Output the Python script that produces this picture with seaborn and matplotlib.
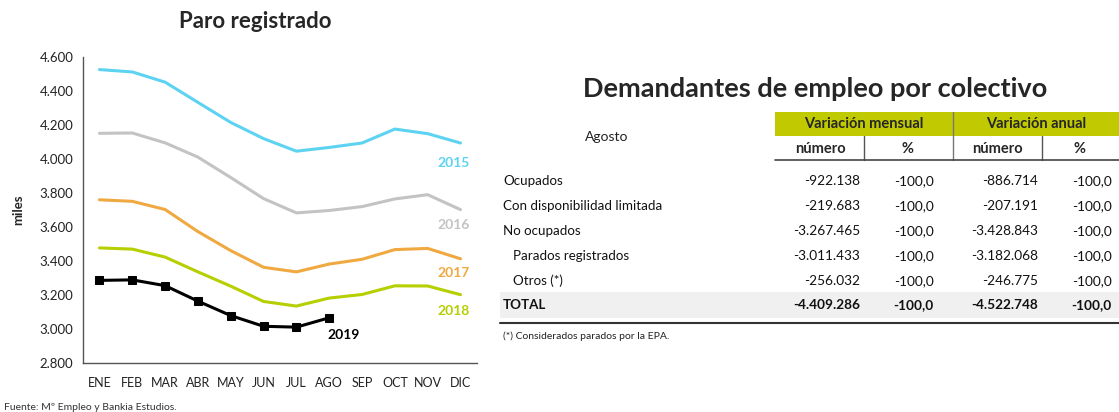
import numpy as np
import pandas as pd
import matplotlib
matplotlib.use("Agg")
import matplotlib.pyplot as plt
from matplotlib.patches import Rectangle
import seaborn as sns

# --- datos del grafico (miles de parados) ---
meses = ['ENE', 'FEB', 'MAR', 'ABR', 'MAY', 'JUN', 'JUL', 'AGO', 'SEP', 'OCT', 'NOV', 'DIC']
paro_2015 = [4526, 4512, 4452, 4333, 4215, 4120, 4046, 4068, 4094, 4176, 4149, 4094]
paro_2016 = [4151, 4153, 4095, 4011, 3891, 3767, 3683, 3697, 3720, 3765, 3790, 3702]
paro_2017 = [3760, 3751, 3703, 3573, 3461, 3363, 3336, 3382, 3410, 3467, 3474, 3413]
paro_2018 = [3477, 3470, 3423, 3336, 3252, 3162, 3135, 3182, 3203, 3254, 3253, 3202]
paro_2019 = [3286, 3289, 3255, 3164, 3079, 3016, 3011, 3066]
y_ticks = [2800, 3000, 3200, 3400, 3600, 3800, 4000, 4200, 4400, 4600]

# --- datos de la tabla ---
filas = ['Ocupados', 'Con disponibilidad limitada', 'No ocupados',
         'Parados registrados', 'Otros (*)', 'TOTAL']
sangria = [False, False, False, True, True, False]
var_mensual_num = ['-922.138', '-219.683', '-3.267.465', '-3.011.433', '-256.032', '-4.409.286']
var_mensual_pct = ['-100,0', '-100,0', '-100,0', '-100,0', '-100,0', '-100,0']
var_anual_num = ['-886.714', '-207.191', '-3.428.843', '-3.182.068', '-246.775', '-4.522.748']
var_anual_pct = ['-100,0', '-100,0', '-100,0', '-100,0', '-100,0', '-100,0']

colores = {'2015': '#5dd3f1', '2016': '#c3c3c3', '2017': '#f0a941',
           '2018': '#b5cf00', '2019': '#000000'}

sns.set_style("white")
plt.rcParams['font.family'] = ['Lato', 'DejaVu Sans']

series = {'2015': paro_2015, '2016': paro_2016, '2017': paro_2017,
          '2018': paro_2018, '2019': paro_2019}
registros = []
for anio, valores in series.items():
    for i, v in enumerate(valores):
        registros.append({'anio': anio, 'mes': i, 'paro': v})
df = pd.DataFrame(registros)

fig = plt.figure(figsize=(11.19, 4.12), dpi=100)

# ---------- grafico de lineas ----------
ax = fig.add_axes([0.0742, 0.1189, 0.352, 0.7428])
sns.lineplot(data=df[df['anio'] != '2019'], x='mes', y='paro', hue='anio',
             palette=colores, linewidth=2.2, legend=False, ax=ax)
sns.lineplot(data=df[df['anio'] == '2019'], x='mes', y='paro', color='black',
             linewidth=2.2, marker='s', markersize=5.5, markeredgecolor='black',
             legend=False, ax=ax)

ax.set_xlim(-0.5, 11.5)
ax.set_ylim(2800, 4600)
ax.set_yticks(y_ticks)
ax.set_yticklabels([f"{t:,}".replace(',', '.') for t in y_ticks], fontsize=9.5, color='#222222')
ax.set_xticks(np.arange(-0.5, 12, 1))
ax.set_xticklabels([])
ax.set_xticks(np.arange(12), minor=True)
ax.set_xticklabels(meses, minor=True, fontsize=9, color='#222222')
ax.tick_params(axis='x', which='major', length=4, width=1, color='#555555', direction='out')
ax.tick_params(axis='x', which='minor', length=0, pad=10)
ax.tick_params(axis='y', length=4, width=1, color='#555555', direction='out', pad=3)
ax.set_xlabel('')
ax.set_ylabel('miles', fontsize=9.5, fontweight='bold', labelpad=11)
for lado in ['top', 'right']:
    ax.spines[lado].set_visible(False)
for lado in ['left', 'bottom']:
    ax.spines[lado].set_color('#555555')
    ax.spines[lado].set_linewidth(1)

fig.text(255 / 1119, 1 - 22 / 412, 'Paro registrado', fontsize=16, fontweight='bold',
         ha='center', va='center')

etiquetas = [('2015', 10.8, 3978), ('2016', 10.8, 3614), ('2017', 10.8, 3332),
             ('2018', 10.8, 3103), ('2019', 7.45, 2962)]
for anio, x, y in etiquetas:
    ax.text(x, y, anio, color=colores[anio], fontsize=10, fontweight='bold',
            ha='center', va='center')

fig.text(0.004, 0.005, 'Fuente: Mº Empleo y Bankia Estudios.', fontsize=7.5, color='#333333')

# ---------- tabla ----------
tb = fig.add_axes([0, 0, 1, 1])
tb.set_xlim(0, 1119)
tb.set_ylim(412, 0)
tb.axis('off')

verde = '#c1ca00'
tb.text(815, 89, 'Demandantes de empleo por colectivo', fontsize=19.5,
        fontweight='bold', ha='center', va='center')
tb.add_patch(Rectangle((775, 112), 344, 24, facecolor=verde, edgecolor='none'))
tb.plot([953, 953], [112, 160], color='#777777', lw=1)
tb.plot([864, 864], [136, 160], color='#555555', lw=1)
tb.plot([1042, 1042], [136, 160], color='#555555', lw=1)
tb.plot([775, 1119], [160, 160], color='#444444', lw=1.2)
tb.text(864, 124, 'Variación mensual', fontsize=10.5, fontweight='bold', ha='center', va='center')
tb.text(1036, 124, 'Variación anual', fontsize=10.5, fontweight='bold', ha='center', va='center')
tb.text(607, 137, 'Agosto', fontsize=10, ha='center', va='center', color='#222222')
for xc, txt in zip([820, 908, 997, 1080], ['número', '%', 'número', '%']):
    tb.text(xc, 149, txt, fontsize=10.5, fontweight='bold', ha='center', va='center')

tb.add_patch(Rectangle((500, 292), 619, 26, facecolor='#f0f0f0', edgecolor='none'))
tb.plot([500, 1119], [322.5, 322.5], color='#333333', lw=1.5)

ys = [181, 206, 231, 256, 281, 305]
for i, fila in enumerate(filas):
    peso = 'bold' if fila == 'TOTAL' else 'normal'
    x0 = 513 if sangria[i] else 503
    tb.text(x0, ys[i], fila, fontsize=9.6, fontweight=peso, ha='left', va='center', color='#111111')
    for xr, col in zip([860, 934, 1038, 1112],
                       [var_mensual_num, var_mensual_pct, var_anual_num, var_anual_pct]):
        tb.text(xr, ys[i], col[i], fontsize=9.8, fontweight=peso, ha='right', va='center', color='#111111')

tb.text(503, 336, '(*) Considerados parados por la EPA.', fontsize=7.5, ha='left', va='center', color='#222222')

fig.savefig('out.png', dpi=100)
